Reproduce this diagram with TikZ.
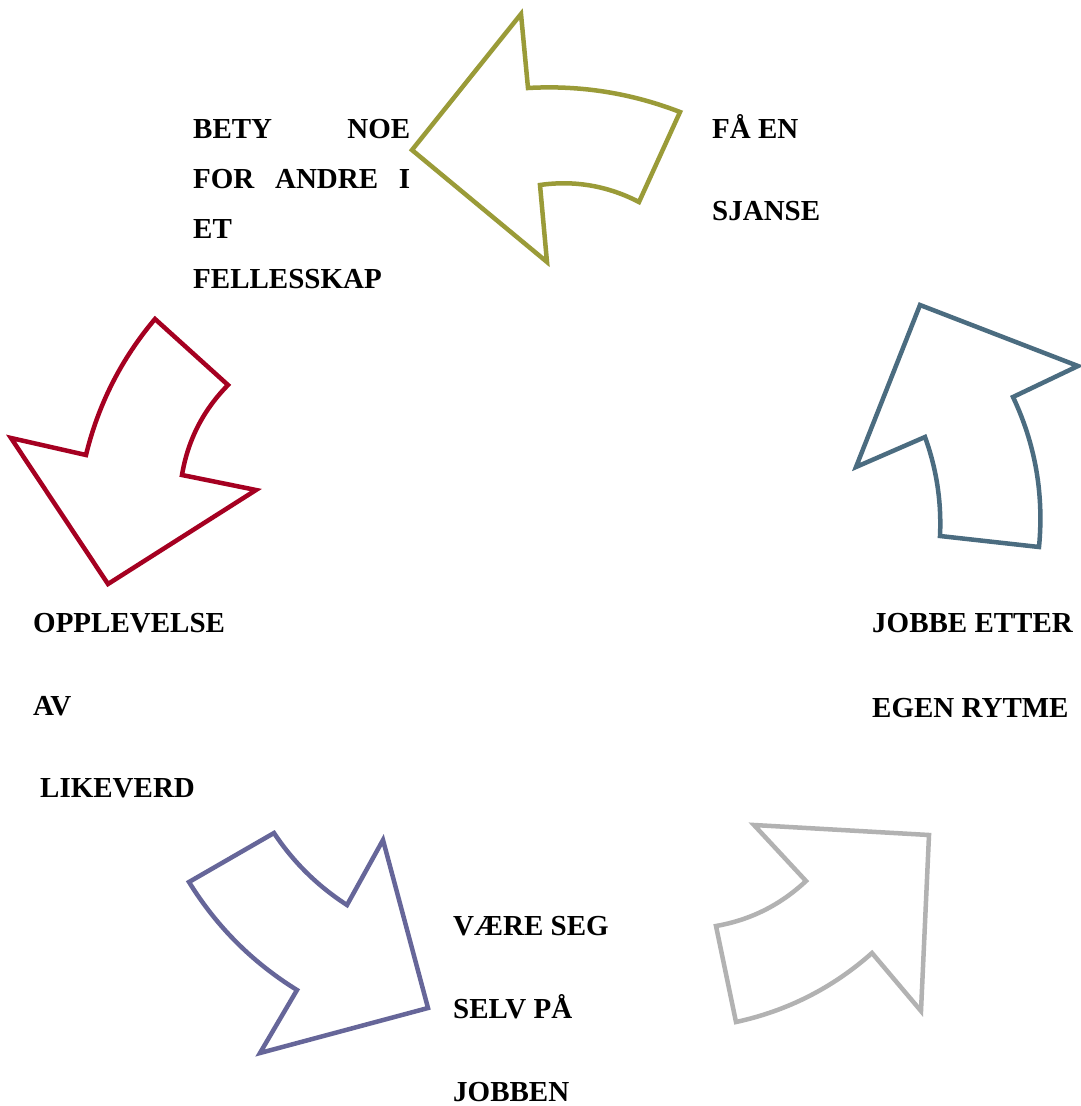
\documentclass[tikz,border=0pt]{standalone}
\usepackage{fontspec}
\setmainfont{Liberation Serif}
\definecolor{olivec}{RGB}{154,155,56}
\definecolor{bluec}{RGB}{75,108,128}
\definecolor{redc}{RGB}{165,0,33}
\definecolor{purplec}{RGB}{102,102,153}
\definecolor{grayc}{RGB}{178,178,178}
\begin{document}
\begin{tikzpicture}[x=1pt,y=-1pt,
  arrowshape/.style={line width=4.5pt,line join=miter,fill=white},
  lbl/.style={anchor=base west,inner sep=0pt,font=\fontsize{29}{29}\selectfont\bfseries}]
\useasboundingbox[fill=white] (0,0) rectangle (1081,1106);
% olive arrow
\draw[arrowshape,draw=olivec] (521,14) -- (528,88) .. controls (580,85) and (631,93) .. (680,112) -- (639,202)
  .. controls (608,186) and (575,180) .. (540,185) -- (547,262) -- (412,150) -- cycle;
% blue arrow
\draw[arrowshape,draw=bluec] (920,305) -- (1078,366) -- (1013,397) .. controls (1035.5,444.6) and (1044,494.6) .. (1039,547)
  -- (940,536) .. controls (941.6,502) and (936.6,469) .. (925,437) -- (856,467) -- cycle;
% gray arrow
\draw[arrowshape,draw=grayc] (754,825) -- (929,835) -- (921,1011) -- (872,953)
  .. controls (832.7,987.9) and (787.3,1010.9) .. (736,1022) -- (716,926)
  .. controls (750.4,920) and (780.4,905) .. (806,881) -- cycle;
% purple arrow
\draw[arrowshape,draw=purplec] (274,833) .. controls (293.3,862.1) and (317.7,886.1) .. (347,905) -- (383,840) -- (428,1008)
  -- (260,1053) -- (297,990) .. controls (252.5,962.5) and (216.5,926.5) .. (189,882) -- cycle;
% red arrow
\draw[arrowshape,draw=redc] (155,319) -- (228,385) .. controls (203.2,410.1) and (187.8,440.1) .. (182,475) -- (256,490)
  -- (108,584) -- (11,438) -- (86,455) .. controls (98.3,404.3) and (121.3,358.9) .. cycle;
% labels
\node[lbl] (t1a) at (712,138) {FÅ EN};
\node[lbl] (t1b) at (712,220) {SJANSE};
\node[lbl] (t2a) at (872,632) {JOBBE ETTER};
\node[lbl] (t2b) at (872,717) {EGEN RYTME};
\node[lbl] (t3a) at (453,935) {VÆRE SEG};
\node[lbl] (t3b) at (453,1018) {SELV PÅ};
\node[lbl] (t3c) at (453,1101) {JOBBEN};
\node[lbl] (t4a) at (33,632) {OPPLEVELSE};
\node[lbl] (t4b) at (33,715) {AV};
\node[lbl] (t4c) at (40,797) {LIKEVERD};
\node[lbl] (t5a) at (193,138) {\makebox[217pt][s]{BETY NOE}};
\node[lbl] (t5b) at (193,188) {\makebox[217pt][s]{FOR ANDRE I}};
\node[lbl] (t5c) at (193,238) {ET};
\node[lbl] (t5d) at (193,288) {FELLESSKAP};
\end{tikzpicture}
\end{document}
